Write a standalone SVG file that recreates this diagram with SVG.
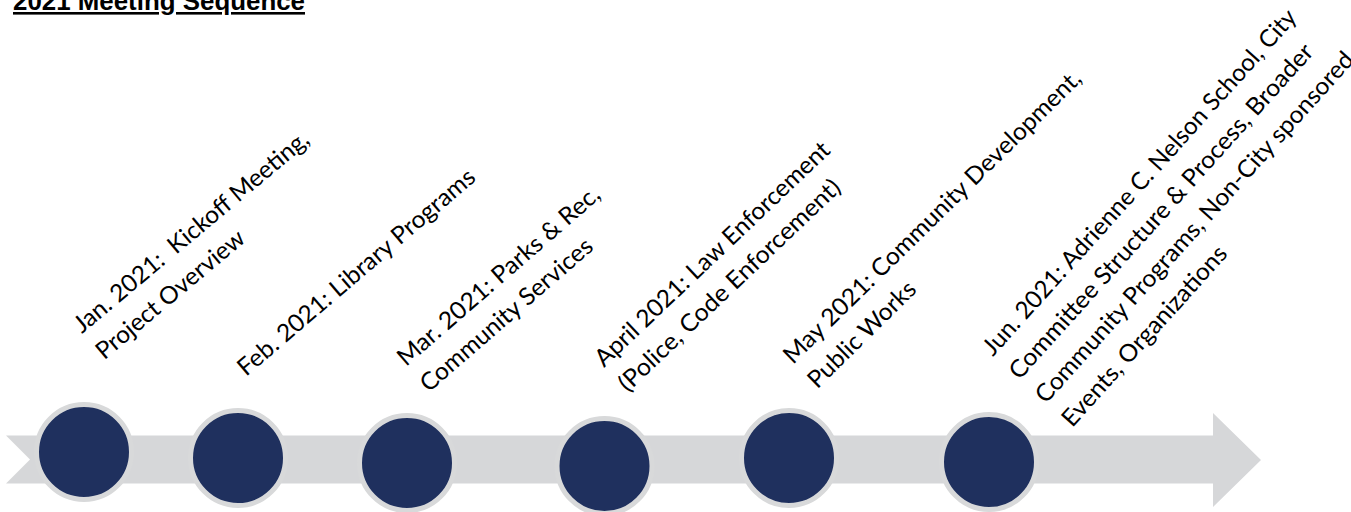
<svg xmlns="http://www.w3.org/2000/svg" width="1351" height="512" viewBox="0 0 1351 512">
<style>
.lbl{font-family:Lato,"Liberation Sans",sans-serif;font-size:24.2px;fill:#000;}
.dot{fill:#1F305E;stroke:#D8D9DA;stroke-width:5;}
.title{font-family:"Liberation Sans",Arial,sans-serif;font-weight:bold;font-size:26px;fill:#000;text-decoration:underline;}
</style>
<rect width="1351" height="512" fill="#fff"/>
<text class="title" x="13" y="10" textLength="292" lengthAdjust="spacingAndGlyphs">2021 Meeting Sequence</text>
<g id="connectors">
<path d="M6,435.5 L1213,435.5 L1213,413 L1261,460 L1213,507 L1213,483.5 L6,483.5 L30,459.5 Z" fill="#D6D7D9"/>
</g>
<g id="m-jan">
<circle class="dot" cx="84" cy="452" r="47.5"/>
<text class="lbl" transform="translate(82,334) rotate(-40)"><tspan x="0" y="0" textLength="298.7" lengthAdjust="spacingAndGlyphs">Jan. 2021:&#160; Kickoff Meeting,</tspan><tspan x="0" y="34.5" textLength="185.9" lengthAdjust="spacingAndGlyphs">Project Overview</tspan></text>
</g>
<g id="m-feb">
<circle class="dot" cx="238" cy="458" r="47.5"/>
<text class="lbl" transform="translate(246,377) rotate(-40.5)"><tspan x="0" y="0" textLength="303.9" lengthAdjust="spacingAndGlyphs">Feb. 2021: Library Programs</tspan></text>
</g>
<g id="m-mar">
<circle class="dot" cx="407" cy="463" r="47.5"/>
<text class="lbl" transform="translate(406,367) rotate(-41)"><tspan x="0" y="0" textLength="259.3" lengthAdjust="spacingAndGlyphs">Mar. 2021: Parks &amp; Rec,</tspan><tspan x="0" y="34.5" textLength="220" lengthAdjust="spacingAndGlyphs">Community Services</tspan></text>
</g>
<g id="m-apr">
<circle class="dot" cx="604.5" cy="466" r="47.5"/>
<text class="lbl" transform="translate(604,368) rotate(-43.5)"><tspan x="0" y="0" textLength="313.9" lengthAdjust="spacingAndGlyphs">April 2021: Law Enforcement</tspan><tspan x="0" y="34.5" textLength="295.7" lengthAdjust="spacingAndGlyphs">(Police, Code Enforcement)</tspan></text>
</g>
<g id="m-may">
<circle class="dot" cx="789" cy="458" r="47.5"/>
<text class="lbl" transform="translate(793,365) rotate(-44.5)"><tspan x="0" y="0" textLength="406.4" lengthAdjust="spacingAndGlyphs">May 2021: Community Development,</tspan><tspan x="0" y="34.5" textLength="141" lengthAdjust="spacingAndGlyphs">Public Works</tspan></text>
</g>
<g id="m-jun">
<circle class="dot" cx="989" cy="462" r="47.5"/>
<text class="lbl" transform="translate(993,357) rotate(-48)"><tspan x="0" y="0" textLength="455.8" lengthAdjust="spacingAndGlyphs">Jun. 2021: Adrienne C. Nelson School, City</tspan><tspan x="0" y="35.5" textLength="441.5" lengthAdjust="spacingAndGlyphs">Committee Structure &amp; Process, Broader</tspan><tspan x="0" y="71" textLength="462.6" lengthAdjust="spacingAndGlyphs">Community Programs, Non-City sponsored</tspan><tspan x="0" y="106.5" textLength="233.7" lengthAdjust="spacingAndGlyphs">Events, Organizations</tspan></text>
</g>
</svg>
